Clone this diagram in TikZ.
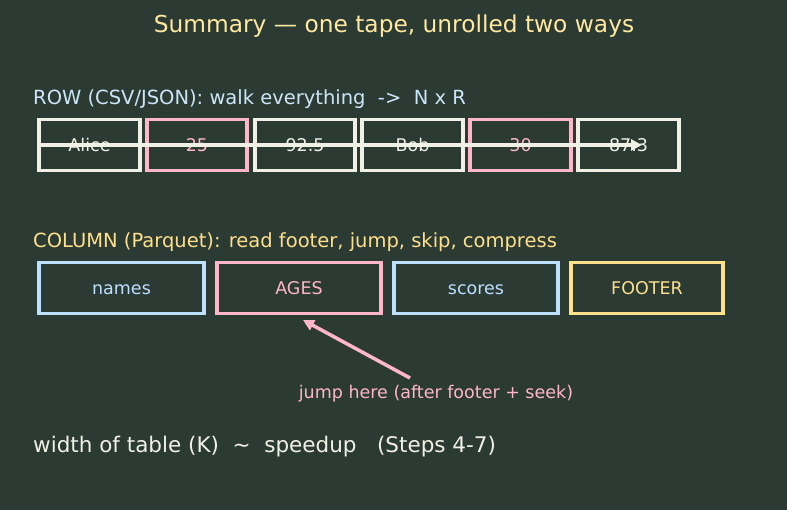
\documentclass[tikz,border=0pt]{standalone}
\usepackage{fontspec}
\setmainfont{DejaVu Sans}
\usetikzlibrary{arrows.meta}
\definecolor{bg}{HTML}{2B3A33}
\definecolor{ttl}{HTML}{FFE8A0}
\definecolor{lblue}{HTML}{CDE6F7}
\definecolor{cwhite}{HTML}{F0F0E6}
\definecolor{cpink}{HTML}{FFB6C8}
\definecolor{cblue}{HTML}{BDE0FE}
\definecolor{cyellow}{HTML}{FFE08A}
\begin{document}
\begin{tikzpicture}[x=1pt,y=-1pt,
  cell/.style={draw, line width=3.5pt, fill=bg, minimum height=51pt, inner sep=0pt, text height=16pt, text depth=2pt, font=\fontsize{17.5}{20}\selectfont},
  lbl/.style={anchor=west, inner sep=0pt, font=\fontsize{19.5}{22}\selectfont}]
\fill[bg] (0,0) rectangle (787,510);
\useasboundingbox (0,0) rectangle (787,510);
\node[text=ttl, font=\fontsize{23.3}{26}\selectfont] (title) at (394,26) {Summary — one tape, unrolled two ways};
\node[lbl, text=lblue] (rowlbl) at (33,99) {ROW (CSV/JSON): walk everything \ -> \ N x R};
\node[cell, draw=cwhite, text=cwhite, minimum width=101pt] (r1) at (89.5,145) {Alice};
\node[cell, draw=cpink, text=cpink, minimum width=100pt] (r2) at (197,145) {25};
\node[cell, draw=cwhite, text=cwhite, minimum width=100pt] (r3) at (305,145) {92.5};
\node[cell, draw=cwhite, text=cwhite, minimum width=101pt] (r4) at (412.5,145) {Bob};
\node[cell, draw=cpink, text=cpink, minimum width=101pt] (r5) at (520.5,145) {30};
\node[cell, draw=cwhite, text=cwhite, minimum width=101pt] (r6) at (628.5,145) {87.3};
\coordinate (rs) at (40,145);
\coordinate (re) at (642,145);
\draw[cwhite, line width=3.5pt, -{Triangle[length=11pt,width=11pt]}] (rs) -- (re);
\node[lbl, text=cyellow] (collbl) at (33,242) {COLUMN (Parquet): read footer, jump, skip, compress};
\node[cell, draw=cblue, text=cblue, minimum width=165pt] (c1) at (121.5,288) {names};
\node[cell, draw=cpink, text=cpink, minimum width=164pt] (c2) at (299,288) {AGES};
\node[cell, draw=cblue, text=cblue, minimum width=164pt] (c3) at (476,288) {scores};
\node[cell, draw=cyellow, text=cyellow, minimum width=152pt] (c4) at (647,288) {FOOTER};
\node[text=cpink, font=\fontsize{17.5}{20}\selectfont] (jump) at (436,394) {jump here (after footer + seek)};
\coordinate (js) at (410,378);
\coordinate (jt) at (303,320);
\draw[cpink, line width=3.5pt, -{Triangle[length=11pt,width=11pt]}] (js) -- (jt);
\node[lbl, text=cwhite, font=\fontsize{21.5}{24}\selectfont] (bottom) at (33,447) {width of table (K) \ \textasciitilde\ \ speedup \ \ (Steps 4-7)};
\end{tikzpicture}
\end{document}
